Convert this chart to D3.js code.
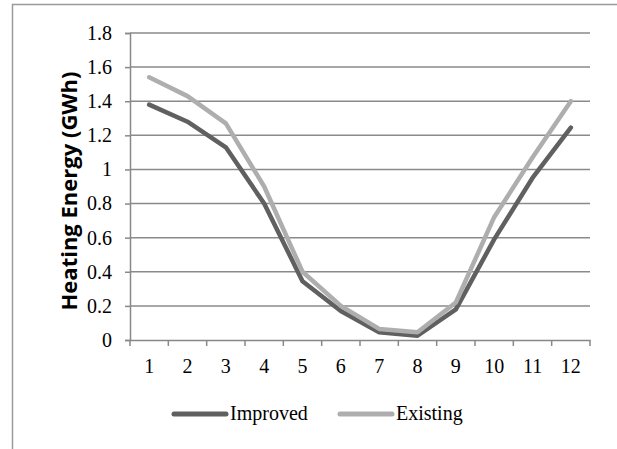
<!DOCTYPE html>
<html>
<head>
<meta charset="utf-8">
<script src="https://cdn.jsdelivr.net/npm/d3@7"></script>
<style>
  body { margin: 0; background: #fff; }
  svg { display: block; }
</style>
</head>
<body>
<div class="chart"></div>
<script>
var months = [1, 2, 3, 4, 5, 6, 7, 8, 9, 10, 11, 12];
var improved = [1.38, 1.28, 1.13, 0.80, 0.345, 0.17, 0.045, 0.025, 0.18, 0.59, 0.95, 1.245];
var existing = [1.54, 1.43, 1.27, 0.90, 0.40, 0.20, 0.065, 0.045, 0.22, 0.72, 1.07, 1.40];
var yTicks = [0, 0.2, 0.4, 0.6, 0.8, 1, 1.2, 1.4, 1.6, 1.8];
var seriesNames = ["Improved", "Existing"];

var width = 617, height = 449;
var plotLeft = 130, plotRight = 590, plotTop = 33, plotBottom = 340;
var colors = {Improved: "#606060", Existing: "#aeaeae"};
var serif = "'Liberation Serif', 'Times New Roman', serif";

var svg = d3.select(".chart").append("svg")
  .attr("width", width)
  .attr("height", height);

// outer frame (runs off the right and bottom edges)
svg.append("rect")
  .attr("x", 12.5).attr("y", 4.5)
  .attr("width", 700).attr("height", 600)
  .attr("fill", "none").attr("stroke", "#9a9a9a").attr("stroke-width", 1.5);

var x = d3.scaleBand().domain(months).range([plotLeft, plotRight]);
var y = d3.scaleLinear().domain([0, 1.8]).range([plotBottom, plotTop]);

// gridlines + y axis
var yAxis = svg.append("g")
  .attr("transform", "translate(" + plotLeft + ",0)")
  .call(d3.axisLeft(y).tickValues(yTicks).tickSize(5).tickPadding(13)
    .tickFormat(function(d) { return d3.format("")(+d.toFixed(1)); }));
yAxis.select(".domain").attr("stroke", "#888").attr("stroke-width", 1.5);
yAxis.selectAll(".tick line").attr("stroke", "#888").attr("stroke-width", 1.5);
yAxis.selectAll(".tick text")
  .attr("font-family", serif).attr("font-size", 20).attr("fill", "#000");

svg.append("g").selectAll("line").data(yTicks.slice(1)).enter().append("line")
  .attr("x1", plotLeft).attr("x2", plotRight)
  .attr("y1", function(d) { return y(d); }).attr("y2", function(d) { return y(d); })
  .attr("stroke", "#8a8a8a").attr("stroke-width", 1.5);

// x axis
var xAxis = svg.append("g")
  .attr("transform", "translate(0," + plotBottom + ")")
  .call(d3.axisBottom(x).tickSize(0).tickPadding(19));
xAxis.select(".domain").attr("stroke", "#888").attr("stroke-width", 1.5);
xAxis.selectAll(".tick text")
  .attr("font-family", serif).attr("font-size", 20).attr("fill", "#000");
// boundary ticks between categories
var bounds = months.map(function(m) { return x(m); }).concat([plotRight]);
svg.append("g").selectAll("line").data(bounds).enter().append("line")
  .attr("x1", function(d) { return d; }).attr("x2", function(d) { return d; })
  .attr("y1", plotBottom).attr("y2", plotBottom + 6)
  .attr("stroke", "#888").attr("stroke-width", 1.5);

// y axis title
svg.append("text")
  .attr("transform", "translate(77,191) rotate(-90)")
  .attr("text-anchor", "middle")
  .attr("font-family", "'Open Sans', 'Liberation Sans', sans-serif")
  .attr("font-weight", "bold")
  .attr("font-size", 22)
  .attr("fill", "#000")
  .text("Heating Energy (GWh)");

// lines
var line = d3.line()
  .x(function(d, i) { return x(months[i]) + x.bandwidth() / 2; })
  .y(function(d) { return y(d); });

[["Improved", improved], ["Existing", existing]].forEach(function(s) {
  svg.append("path")
    .attr("d", line(s[1]))
    .attr("fill", "none")
    .attr("stroke", colors[s[0]])
    .attr("stroke-width", 4.5)
    .attr("stroke-linejoin", "round")
    .attr("stroke-linecap", "round");
});

// legend
var legendX = [174, 340];
var legend = svg.append("g").selectAll("g").data(seriesNames).enter().append("g")
  .attr("transform", function(d, i) { return "translate(" + legendX[i] + ",414)"; });
legend.append("line")
  .attr("x1", 0).attr("x2", 52)
  .attr("stroke", function(d) { return colors[d]; })
  .attr("stroke-width", 5)
  .attr("stroke-linecap", "round");
legend.append("text")
  .attr("x", 56).attr("y", 6)
  .attr("font-family", serif).attr("font-size", 20).attr("fill", "#000")
  .text(function(d) { return d; });
</script>
</body>
</html>
